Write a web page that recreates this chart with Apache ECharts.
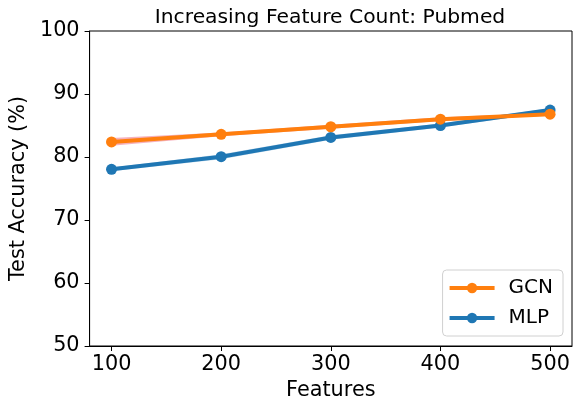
<!DOCTYPE html>
<html>
<head>
<meta charset="utf-8">
<script src="https://cdn.jsdelivr.net/npm/echarts@6/dist/echarts.min.js"></script>
<style>html,body{margin:0;padding:0;background:#fff}#c{width:578px;height:406px}</style>
</head>
<body>
<div id="c"></div>
<script>
const features = [100, 200, 300, 400, 500];
const xTicks = [100, 200, 300, 400, 500];
const gcnAcc = [82.4, 83.6, 84.8, 86.0, 86.8];
const gcnStd = [0.6, 0.3, 0.3, 0.3, 0.2];
const mlpAcc = [78.05, 80.05, 83.1, 85.0, 87.45];
const mlpStd = [0.3, 0.4, 0.35, 0.3, 0.3];

const FONT = 'DejaVu Sans';
const FS = 20.8;
const chart = echarts.init(document.getElementById('c'));

function bandSeries(name, acc, std, color) {
  return {
    type: 'custom',
    name: name + ' band',
    silent: true,
    z: 1,
    data: features.map((f, i) => [f, acc[i]]),
    renderItem: function (params, api) {
      if (params.dataIndex !== 0) return null;
      const pts = [];
      for (let i = 0; i < features.length; i++) pts.push(api.coord([features[i], acc[i] + std[i]]));
      for (let i = features.length - 1; i >= 0; i--) pts.push(api.coord([features[i], acc[i] - std[i]]));
      return { type: 'polygon', shape: { points: pts }, style: { fill: color } };
    }
  };
}

chart.setOption({
  animation: false,
  textStyle: { fontFamily: FONT },
  title: {
    text: 'Increasing Feature Count: Pubmed',
    left: 325, top: 3, textAlign: 'center',
    textStyle: { fontFamily: FONT, fontSize: 20.3, fontWeight: 'normal', color: '#000' }
  },
  grid: { left: 88, right: 6, top: 31, bottom: 60, show: true, borderColor: '#000', borderWidth: 1, backgroundColor: 'transparent' },
  legend: {
    data: ['GCN', 'MLP'],
    orient: 'vertical',
    right: 15, bottom: 70,
    itemWidth: 45, itemHeight: 13, itemGap: 10,
    padding: [8, 10, 8, 5],
    borderColor: '#d0d0d0', borderWidth: 1, borderRadius: 4,
    backgroundColor: 'rgba(255,255,255,0.8)',
    lineStyle: { width: 4 },
    textStyle: { fontFamily: FONT, fontSize: 20, color: '#000', padding: [0, 0, 0, 9] }
  },
  xAxis: {
    type: 'value', min: 80, max: 520,
    name: 'Features', nameLocation: 'middle', nameGap: 34,
    nameTextStyle: { fontFamily: FONT, fontSize: FS, color: '#000' },
    axisLine: { show: true, lineStyle: { color: '#000', width: 1 } },
    axisTick: { show: true, inside: false, length: 5, customValues: xTicks, lineStyle: { color: '#000' } },
    axisLabel: { customValues: xTicks, fontFamily: FONT, fontSize: FS, color: '#000', margin: 8 },
    splitLine: { show: false }
  },
  yAxis: {
    type: 'value', min: 50, max: 100, interval: 10,
    name: 'Test Accuracy (%)', nameLocation: 'middle', nameGap: 55,
    nameTextStyle: { fontFamily: FONT, fontSize: FS, color: '#000' },
    axisLine: { show: true, lineStyle: { color: '#000', width: 1 } },
    axisTick: { show: true, length: 5, lineStyle: { color: '#000' } },
    axisLabel: { fontFamily: FONT, fontSize: FS, color: '#000', margin: 10 },
    splitLine: { show: false }
  },
  series: [
    bandSeries('MLP', mlpAcc, mlpStd, 'rgba(31,119,180,0.25)'),
    bandSeries('GCN', gcnAcc, gcnStd, 'rgba(230,60,90,0.4)'),
    {
      name: 'MLP', type: 'line', z: 3,
      data: features.map((f, i) => [f, mlpAcc[i]]),
      color: '#1f77b4',
      lineStyle: { width: 4, color: '#1f77b4' },
      symbol: 'circle', symbolSize: 11,
      itemStyle: { color: '#1f77b4' }
    },
    {
      name: 'GCN', type: 'line', z: 4,
      data: features.map((f, i) => [f, gcnAcc[i]]),
      color: '#ff7f0e',
      lineStyle: { width: 4, color: '#ff7f0e' },
      symbol: 'circle', symbolSize: 11,
      itemStyle: { color: '#ff7f0e' }
    }
  ]
});
</script>
</body>
</html>
